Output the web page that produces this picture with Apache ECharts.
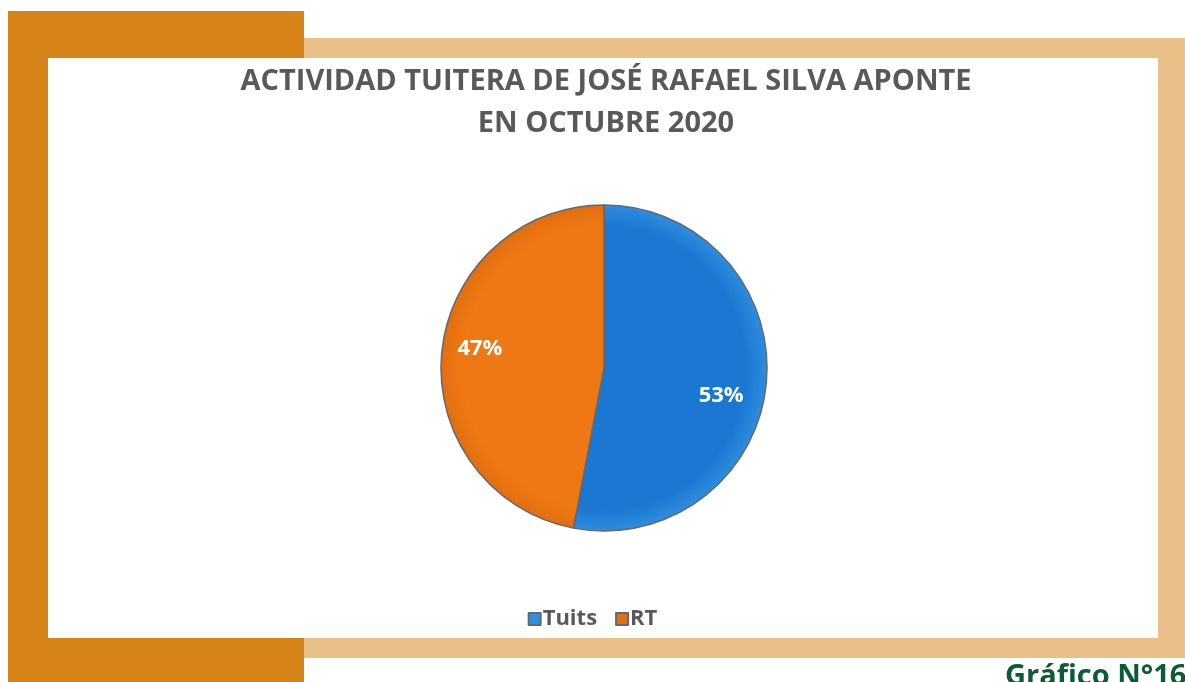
<!DOCTYPE html>
<html>
<head>
<meta charset="utf-8">
<script src="https://cdn.jsdelivr.net/npm/echarts@6/dist/echarts.min.js"></script>
<style>
  html, body { margin: 0; padding: 0; background: #ffffff; }
  #chart { width: 1185px; height: 682px; }
</style>
</head>
<body>
<div id="chart"></div>
<script>
// datos del gráfico
const categorias = ['Tuits', 'RT']
const valores = [53, 47]
const colores = ['#1b78d2', '#ee7813']
const titulo = 'ACTIVIDAD TUITERA DE JOSÉ RAFAEL SILVA APONTE\nEN OCTUBRE 2020'
const pie = 'Gráfico N°16'

// desplazamiento de las etiquetas dentro de cada sector
const offsets = [[33, 20], [-40, -11]]

const chart = echarts.init(document.getElementById('chart'))

// sombreado suave hacia el borde (coordenadas globales)
function grad (c1, c2) {
  return new echarts.graphic.RadialGradient(604, 368, 165, [
    { offset: 0, color: c1 },
    { offset: 0.86, color: c1 },
    { offset: 1, color: c2 }
  ], true)
}
const rellenos = [grad('#1b78d2', '#2f8fe0'), grad('#ee7813', '#e06d0e')]

const option = {
  backgroundColor: 'transparent',
  animation: false,
  graphic: [
    // marco naranja oscuro
    { type: 'rect', z: -10, shape: { x: 8, y: 11, width: 296, height: 671 }, style: { fill: '#d68418' } },
    // marco claro
    { type: 'rect', z: -9, shape: { x: 304, y: 38, width: 881, height: 620 }, style: { fill: '#e9c087' } },
    // área blanca
    { type: 'rect', z: -8, shape: { x: 48, y: 58, width: 1110, height: 580 }, style: { fill: '#ffffff' } },
    {
      type: 'text',
      left: 1005,
      top: 662,
      style: { text: pie, fill: '#0d5a36', font: 'bold 29px "Open Sans", sans-serif' }
    }
  ],
  title: {
    text: titulo,
    left: 601,
    top: 56,
    textAlign: 'center',
    textStyle: {
      fontFamily: 'Open Sans',
      fontWeight: 'bold',
      fontSize: 29,
      lineHeight: 42,
      color: '#595959'
    }
  },
  legend: {
    data: categorias,
    left: 'center',
    top: 603,
    icon: 'rect',
    itemWidth: 12,
    itemHeight: 12,
    itemGap: 18,
    textStyle: {
      fontFamily: 'Open Sans',
      fontWeight: 'bold',
      fontSize: 22,
      color: '#595959',
      padding: [0, 0, 0, -3]
    }
  },
  series: [
    {
      type: 'pie',
      center: [604, 368],
      radius: 163,
      startAngle: 90,
      clockwise: true,
      color: colores,
      itemStyle: { borderColor: '#5f6a72', borderWidth: 1.5 },
      label: {
        position: 'inside',
        formatter: '{d}%',
        color: '#ffffff',
        fontFamily: 'Open Sans',
        fontWeight: 'bold',
        fontSize: 22
      },
      labelLine: { show: false },
      emphasis: { disabled: true },
      data: categorias.map((c, i) => ({
        name: c,
        value: valores[i],
        itemStyle: { color: rellenos[i] },
        label: { offset: offsets[i] }
      }))
    }
  ]
}

chart.setOption(option)
</script>
</body>
</html>
